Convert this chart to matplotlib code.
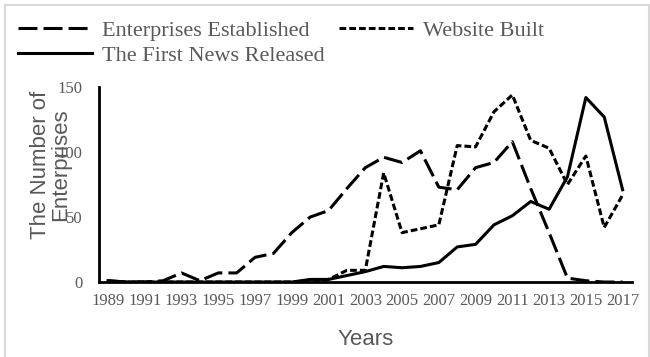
import matplotlib.pyplot as plt
from matplotlib.patches import Rectangle

# yearly counts, 1989-2017
years = list(range(1989, 2018))
established = [1, 0, 0, 1, 7, 1, 7, 7, 19, 22, 38, 50, 55, 72, 88,
               96, 92, 101, 73, 71, 88, 92, 108, 72, 38, 3, 1, 0, 0]
website = [0, 0, 0, 0, 0, 0, 0, 0, 0, 0, 0, 0, 2, 9, 9,
           84, 38, 41, 44, 105, 104, 131, 144, 109, 103, 75, 97, 42, 67]
news = [1, 0, 0, 0, 0, 0, 0, 0, 0, 0, 0, 2, 2, 5, 8,
        12, 11, 12, 15, 27, 29, 44, 51, 62, 56, 81, 142, 127, 71]
tick_years = [str(y) for y in years[::2]]

grey = '#595959'
serif = 'Liberation Serif'
sans = 'Liberation Sans'

fig = plt.figure(figsize=(6.5, 3.57), dpi=100)
ax = fig.add_axes([0.152, 0.21, 0.82, 0.546])

x = list(range(len(years)))
l_est, = ax.plot(x, established, color='black', lw=2.2, dashes=(6.2, 2.0))
l_web, = ax.plot(x, website, color='black', lw=2.2, dashes=(2.2, 1.0))
l_news, = ax.plot(x, news, color='black', lw=2.2)

ax.set_xlim(-0.5, len(years) - 0.5)
ax.set_ylim(0, 150)
ax.set_yticks([0, 50, 100, 150])
ax.set_xticks(x[::2])
ax.set_xticklabels(tick_years)
ax.tick_params(length=0, labelsize=12, labelcolor=grey)
ax.tick_params(axis='x', pad=8)
ax.tick_params(axis='y', pad=12)
for lab in ax.get_xticklabels() + ax.get_yticklabels():
    lab.set_fontfamily(serif)

for side in ['top', 'right']:
    ax.spines[side].set_visible(False)
for side in ['left', 'bottom']:
    ax.spines[side].set_linewidth(2)
    ax.spines[side].set_color('black')

ax.set_xlabel('Years', fontsize=16, color=grey, family=sans, labelpad=14)
ax.set_ylabel('The Number of\nEnterprises', fontsize=16, color=grey,
              family=sans, linespacing=0.95)
ax.yaxis.set_label_coords(-0.052, 0.6)

# two columns: first column holds entries 1 and 3
fig.legend([l_est, l_news, l_web],
           ['Enterprises Established', 'The First News Released', 'Website Built'],
           loc='upper left', bbox_to_anchor=(0.011, 0.975), ncol=2,
           frameon=False, borderpad=0, handlelength=3.3, columnspacing=0.68,
           handletextpad=0.45, labelspacing=0.2,
           prop={'family': serif, 'size': 16}, labelcolor=grey)

# thin grey frame round the figure
fig.patches.append(Rectangle((0.008, -0.01), 0.99, 0.997, transform=fig.transFigure,
                             fill=False, edgecolor='#d9d9d9', lw=1.5))

fig.savefig('out.png', dpi=100)
